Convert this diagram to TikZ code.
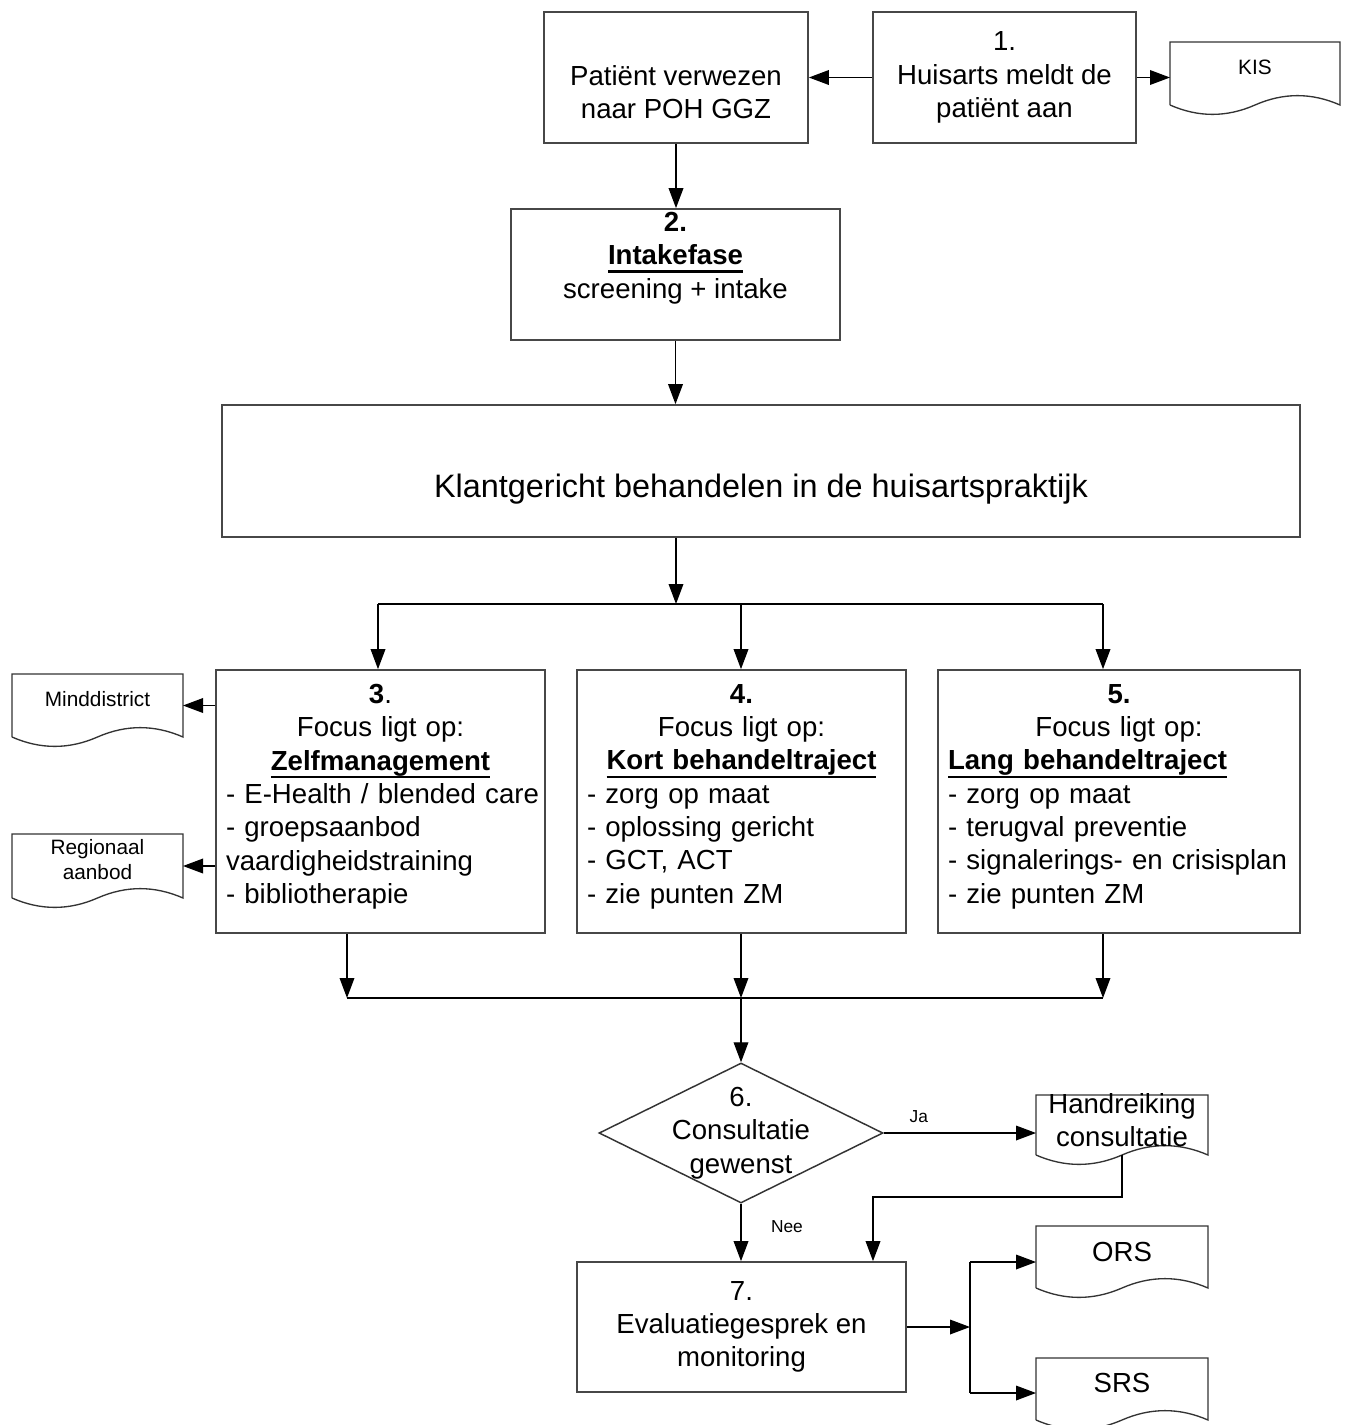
\documentclass[tikz,border=0pt]{standalone}
\usepackage{fontspec}
\setmainfont{Liberation Sans}
\usetikzlibrary{arrows.meta,shapes.geometric}
\newsavebox\ulbox
\newcommand\myul[1]{\sbox\ulbox{#1}\mbox{\rlap{\rule[-5.8pt]{\wd\ulbox}{1.6pt}}\usebox\ulbox}}
\newcommand\mainsz{\fontsize{20.7}{25}\selectfont}
\newcommand\bigsz{\fontsize{24.3}{29}\selectfont}
\newcommand\smallsz{\fontsize{15.6}{18.75}\selectfont}
\newcommand\tinysz{\fontsize{13}{15}\selectfont}
\tikzset{
  box/.style={draw=black!72, line width=1.3pt, inner sep=0pt},
  txt/.style={font=\mainsz, align=center, inner sep=0pt},
  docl/.style={draw=black!80, line width=1pt},
  arr/.style={-{Triangle[length=15pt,width=11pt]}, line width=1pt},
  ln/.style={line width=1pt},
  dia/.style={shape=diamond, draw=black!80, line width=1.1pt, inner sep=0pt}
}
\newcommand\mkdoc[8]{%
  \draw[docl] (#2,#5) -- (#2,#3) -- (#4,#3) -- (#4,#5)
    .. controls ({#4-(#4-#2)/6},{#5-12.5}) and ({#4-(#4-#2)/3},{#5-12.5}) .. ({(#2+#4)/2},#5)
    .. controls ({(#2+#4)/2-(#4-#2)/6},{#5+12.5}) and ({#2+(#4-#2)/6},{#5+12.5}) .. (#2,#5);
  \node[txt,font=#7] (#1) at ({(#2+#4)/2},#6) {#8};
  \coordinate (#1-w) at (#2,{(#3+#5)/2});
  \coordinate (#1-e) at (#4,{(#3+#5)/2});
  \coordinate (#1-s) at ({(#2+#4)/2},#5);
}
\begin{document}
\begin{tikzpicture}[x=0.75pt,y=-0.75pt]
\fill[white] (0,0) rectangle (1348,1425);
\useasboundingbox (0,0) rectangle (1348,1425);

% top row
\node[box, minimum width=264*0.75pt, minimum height=131*0.75pt] (pa) at (676,77.5) {};
\node[txt] (pa-t) at (676,92) {Patiënt verwezen\\naar POH GGZ};
\node[box, txt, draw=black!72, line width=1.3pt, minimum width=263*0.75pt, minimum height=131*0.75pt] (b1) at (1004.5,77.5) {1.\\Huisarts meldt de\\patiënt aan};
\mkdoc{kis}{1170}{42}{1340}{105}{67}{\smallsz}{KIS}

% intake
\node[box, minimum width=329*0.75pt, minimum height=131*0.75pt] (b2) at (675.5,274.5) {};
\node[txt] (b2-t) at (675.5,258) {\textbf{2.}\\\myul{\textbf{Intakefase}}\\screening + intake};

% big box
\node[box, minimum width=1078*0.75pt, minimum height=132*0.75pt] (big) at (761,471) {};
\node[txt, font=\bigsz] (big-t) at (761,489) {Klantgericht behandelen in de huisartspraktijk};

% three boxes
\node[box, minimum width=329*0.75pt, minimum height=263*0.75pt] (b3) at (380.5,801.5) {};
\node[txt, align=left, anchor=north, text width=309*0.75pt] (b3-t) at (380.5,684)
 {{\centering\textbf{3}.\\Focus ligt op:\\\myul{\textbf{Zelfmanagement}}\par}
  \mbox{- E-Health / blended care}\\\mbox{- groepsaanbod}\\\mbox{vaardigheidstraining}\\\mbox{- bibliotherapie}};
\node[box, minimum width=329*0.75pt, minimum height=263*0.75pt] (b4) at (741.5,801.5) {};
\node[txt, align=left, anchor=north, text width=309*0.75pt] (b4-t) at (741.5,684)
 {{\centering\textbf{4.}\\Focus ligt op:\\\myul{\textbf{Kort behandeltraject}}\par}
  \mbox{- zorg op maat}\\\mbox{- oplossing gericht}\\\mbox{- GCT, ACT}\\\mbox{- zie punten ZM}};
\node[box, minimum width=362*0.75pt, minimum height=263*0.75pt] (b5) at (1119,801.5) {};
\node[txt, align=left, anchor=north, text width=342*0.75pt] (b5-t) at (1119,684)
 {{\centering\textbf{5.}\\Focus ligt op:\par}
  \myul{\textbf{Lang behandeltraject}}\\\mbox{- zorg op maat}\\\mbox{- terugval preventie}\\\mbox{- signalerings- en crisisplan}\\\mbox{- zie punten ZM}};

\mkdoc{mind}{12}{674}{183}{737}{699}{\smallsz}{Minddistrict}
\mkdoc{reg}{12}{834}{183}{898}{860}{\smallsz}{Regionaal\\aanbod}

% decision
\node[dia, minimum width=284*0.75pt, minimum height=140*0.75pt] (d6) at (741,1133) {};
\node[txt] (d6-t) at (741,1133) {6.\\Consultatie\\gewenst};
\mkdoc{hand}{1036}{1095}{1208}{1155}{1120}{\mainsz}{Handreiking\\consultatie}

% evaluation
\node[box, txt, draw=black!72, line width=1.3pt, minimum width=329*0.75pt, minimum height=130*0.75pt] (b7) at (741.5,1327) {7.\\Evaluatiegesprek en\\monitoring};
\mkdoc{ors}{1036}{1226}{1208}{1288}{1252}{\mainsz}{ORS}
\mkdoc{srs}{1036}{1358}{1208}{1420}{1383}{\mainsz}{SRS}

% coordinates
\coordinate (j1) at (676,604);
\coordinate (s3) at (378,604);
\coordinate (s4) at (741,604);
\coordinate (s5) at (1103,604);
\coordinate (e3) at (347,998);
\coordinate (e4) at (741,998);
\coordinate (e5) at (1103,998);
\coordinate (k1) at (873,1197);
\coordinate (vt) at (970,1262);
\coordinate (vb) at (970,1393);

% connectors
\draw[arr] (b1.west) -- (pa.east);
\draw[arr] (b1.east) -- (b1.east -| kis-w);
\draw[arr] (pa.south) -- (pa.south |- b2.north);
\draw[arr] (b2.south) -- (b2.south |- big.north);
\draw[arr] (big.south -| j1) -- (j1);
\draw[ln] (s3) -- (s5);
\draw[arr] (s3) -- (s3 |- b3.north);
\draw[arr] (s4) -- (s4 |- b4.north);
\draw[arr] (s5) -- (s5 |- b5.north);
\draw[arr] (b3.west |- mind-e) -- (mind-e);
\draw[arr] (b3.west |- reg-e) -- (reg-e);
\draw[arr] (b3.south -| e3) -- (e3);
\draw[arr] (b4.south -| e4) -- (e4);
\draw[arr] (b5.south -| e5) -- (e5);
\draw[ln] (e3) -- (e5);
\draw[arr] (e4) -- (d6.north);
\draw[arr] (d6.east) -- (d6.east -| hand-w) node[pos=0.23, above=7pt, font=\tinysz, inner sep=0pt] (ja) {Ja};
\draw[arr] (d6.south) -- (d6.south |- b7.north) node[pos=0.4, right=22pt, font=\tinysz, inner sep=0pt] (nee) {Nee};
\draw[arr] (hand-s) |- (k1) -- (k1 |- b7.north);
\draw[arr] (b7.east) -- (b7.east -| vt);
\draw[ln] (vt) -- (vb);
\draw[arr] (vt) -- (vt -| ors-w);
\draw[arr] (vb) -- (vb -| srs-w);
\end{tikzpicture}
\end{document}
